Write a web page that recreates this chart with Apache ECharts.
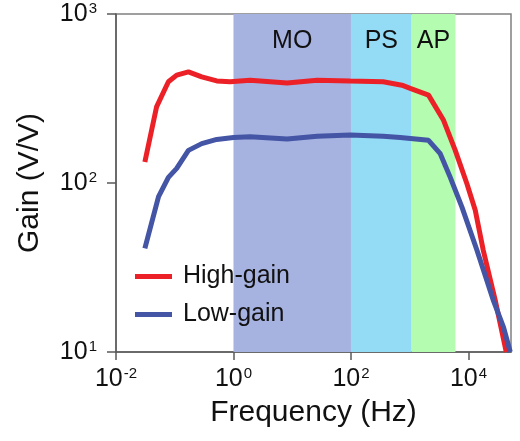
<!DOCTYPE html>
<html>
<head>
<meta charset="utf-8">
<script src="https://cdn.jsdelivr.net/npm/echarts@6/dist/echarts.min.js"></script>
<style>
html, body { margin: 0; padding: 0; background: #fff; }
#chart { width: 520px; height: 441px; }
</style>
</head>
<body>
<div id="chart"></div>
<script>
// values
var highFreq = [0.031, 0.049, 0.078, 0.108, 0.171, 0.288, 0.519, 0.875, 1.92, 8.19, 26.5, 97, 354, 736, 1020, 2090, 3770, 5960, 9420, 13060, 17860, 28600, 44000];
var highGain = [133, 282, 397, 435, 455, 425, 402, 397, 406, 390, 406, 401, 397, 379, 363, 331, 235, 156, 99, 69, 40, 20.2, 10];
var lowFreq = [0.031, 0.053, 0.078, 0.108, 0.171, 0.288, 0.519, 1.0, 1.92, 8.19, 26.5, 97, 354, 689, 2090, 3310, 4900, 7750, 13960, 26800, 39600, 51500];
var lowGain = [41, 83, 108, 122, 156, 171, 181, 186, 188, 182, 189, 192, 189, 186, 179, 149, 108, 72, 40, 20, 14, 10];

var bandNames = ["MO", "PS", "AP"];
var bandEdges = [1, 100, 1080, 6000];
var bandColors = ["#a6b2e0", "#94dcf6", "#b3fcb0"];

var xTicks = [0.01, 1, 100, 10000];
var font = "Liberation Sans, Arial, sans-serif";

function pairs(xs, ys) {
  var out = [];
  for (var i = 0; i < xs.length; i++) out.push([xs[i], ys[i]]);
  return out;
}

function powLabel(v) {
  var e = Math.round(Math.log10(v));
  return "{b|10}{s|" + e + "}";
}

var labelRich = {
  b: { fontSize: 25, fontFamily: font, color: "#111", lineHeight: 26, verticalAlign: "bottom" },
  s: { fontSize: 15, fontFamily: font, color: "#111", lineHeight: 26, verticalAlign: "top", padding: [0, 0, 10, 1] }
};

var bands = [];
for (var i = 0; i < bandNames.length; i++) {
  bands.push([
    { name: bandNames[i], xAxis: bandEdges[i], yAxis: 10, itemStyle: { color: bandColors[i] } },
    { xAxis: bandEdges[i + 1], yAxis: 1000 }
  ]);
}

var myChart = echarts.init(document.getElementById("chart"));
myChart.setOption({
  animation: false,
  grid: {
    left: 116, right: 9, top: 14, bottom: 89,
    show: true, borderColor: "#808080", borderWidth: 1.5
  },
  legend: {
    data: ["High-gain", "Low-gain"],
    orient: "vertical",
    left: 135, top: 264,
    padding: 0,
    itemGap: 13,
    itemWidth: 37, itemHeight: 5,
    icon: "rect",
    textStyle: { fontSize: 25, fontFamily: font, color: "#111", padding: [0, 0, 0, 6] }
  },
  xAxis: {
    type: "log",
    min: 0.01, max: 53000,
    name: "Frequency (Hz)",
    nameLocation: "middle",
    nameGap: 46,
    nameTextStyle: { fontSize: 30, fontFamily: font, color: "#111" },
    axisLine: { lineStyle: { color: "#5a5a5a", width: 1.5 } },
    axisTick: { show: true, length: 8, customValues: xTicks, lineStyle: { color: "#5a5a5a", width: 1.5 } },
    minorTick: { show: false },
    splitLine: { show: false },
    axisLabel: { customValues: xTicks, margin: 14, formatter: powLabel, rich: labelRich }
  },
  yAxis: {
    type: "log",
    min: 10, max: 1000,
    name: "Gain (V/V)",
    nameLocation: "middle",
    nameGap: 71,
    nameTextStyle: { fontSize: 30, fontFamily: font, color: "#111" },
    axisLine: { show: true, lineStyle: { color: "#5a5a5a", width: 1.5 } },
    axisTick: { show: true, length: 9, lineStyle: { color: "#5a5a5a", width: 1.5 } },
    splitLine: { show: false },
    axisLabel: { margin: 19, formatter: powLabel, rich: labelRich }
  },
  series: [
    {
      name: "bands",
      type: "line",
      data: [],
      z: 1,
      silent: true,
      markArea: {
        silent: true,
        label: { show: true, position: "insideTop", distance: 15, fontSize: 25, fontFamily: font, color: "#111" },
        data: bands
      }
    },
    {
      name: "High-gain",
      type: "line",
      z: 3,
      data: pairs(highFreq, highGain),
      showSymbol: false,
      color: "#ec2127",
      lineStyle: { width: 5 }
    },
    {
      name: "Low-gain",
      type: "line",
      z: 3,
      data: pairs(lowFreq, lowGain),
      showSymbol: false,
      color: "#4455a5",
      lineStyle: { width: 5 }
    }
  ]
});
</script>
</body>
</html>
